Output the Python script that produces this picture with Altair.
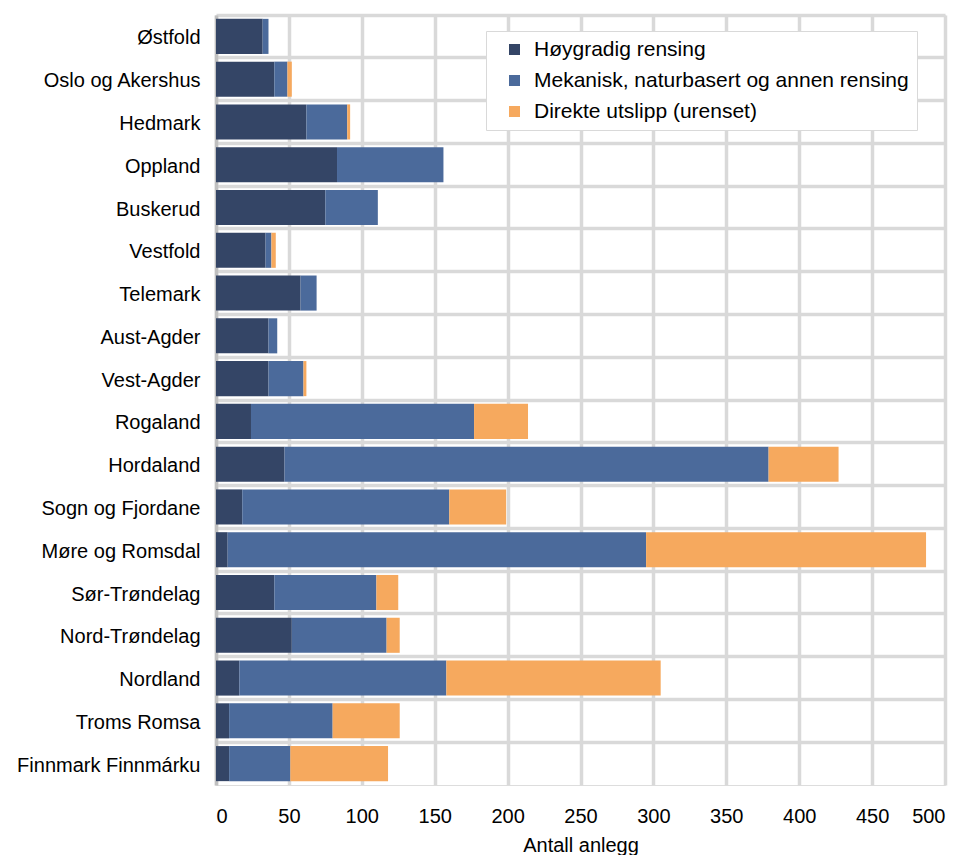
import altair as alt
import pandas as pd

# Counties (top to bottom) and number of treatment plants per treatment class
fylker = [
    "Østfold", "Oslo og Akershus", "Hedmark", "Oppland", "Buskerud", "Vestfold",
    "Telemark", "Aust-Agder", "Vest-Agder", "Rogaland", "Hordaland",
    "Sogn og Fjordane", "Møre og Romsdal", "Sør-Trøndelag", "Nord-Trøndelag",
    "Nordland", "Troms Romsa", "Finnmark Finnmárku",
]
hoygradig = [32, 40, 62, 83, 75, 34, 58, 36, 36, 24, 47, 18, 8, 40, 52, 16, 9, 9]
mekanisk = [4, 9, 28, 73, 36, 4, 11, 6, 24, 153, 332, 142, 287, 70, 65, 142, 71, 42]
direkte = [0, 3, 2, 0, 0, 3, 0, 0, 2, 37, 48, 39, 192, 15, 9, 147, 46, 67]

serier = [
    "Høygradig rensing",
    "Mekanisk, naturbasert og annen rensing",
    "Direkte utslipp (urenset)",
]
farger = ["#344566", "#4b6a9b", "#f6a95e"]

rows = []
for i, f in enumerate(fylker):
    for k, (navn, verdier) in enumerate(zip(serier, [hoygradig, mekanisk, direkte])):
        rows.append({"fylke": f, "serie": navn, "antall": verdier[i], "rekkefolge": k})
df = pd.DataFrame(rows)

grid_color = "#d9d9d9"
font = "Liberation Sans"

chart = (
    alt.Chart(df)
    .mark_bar(height={"band": 0.82})
    .encode(
        x=alt.X(
            "antall:Q",
            stack="zero",
            scale=alt.Scale(domain=[0, 500], nice=False),
            axis=alt.Axis(
                values=list(range(0, 501, 50)),
                title="Antall anlegg",
                titleFont=font,
                titleFontSize=20,
                titleFontWeight="normal",
                titleColor="#000000",
                titlePadding=9,
                labelFont=font,
                labelFontSize=20,
                labelColor="#000000",
                labelPadding=21,
                ticks=False,
                domain=False,
                grid=True,
                gridColor=grid_color,
                gridWidth=3.5,
            ),
        ),
        y=alt.Y(
            "fylke:N",
            sort=fylker,
            scale=alt.Scale(paddingInner=0, paddingOuter=0),
            axis=alt.Axis(
                title=None,
                labelFont=font,
                labelFontSize=20,
                labelColor="#000000",
                labelPadding=16,
                labelLimit=300,
                labelOffset=2,
                ticks=False,
                domain=True,
                domainColor="#c0c0c0",
                domainWidth=3.5,
                grid=True,
                gridColor=grid_color,
                gridWidth=3.5,
                bandPosition=0,
            ),
        ),
        color=alt.Color(
            "serie:N",
            scale=alt.Scale(domain=serier, range=farger),
            sort=serier,
            legend=alt.Legend(
                title=None,
                orient="none",
                legendX=270,
                legendY=16,
                direction="vertical",
                symbolType="square",
                symbolSize=121,
                symbolStrokeWidth=0,
                symbolOffset=10,
                labelFont=font,
                labelFontSize=21,
                labelColor="#000000",
                labelLimit=500,
                labelOffset=9,
                rowPadding=9,
                padding=8,
                fillColor="#ffffff",
                strokeColor=grid_color,
            ),
        ),
        order=alt.Order("rekkefolge:Q", sort="ascending"),
    )
    .properties(
        width=729,
        height=770,
        autosize=alt.AutoSizeParams(type="none"),
        padding={"left": 216, "top": 15, "right": 28, "bottom": 70},
    )
    .configure_view(stroke=grid_color, strokeWidth=3.5)
    .configure(background="#ffffff")
)

chart.save("out.html", embed_options={"renderer": "svg", "actions": False})
